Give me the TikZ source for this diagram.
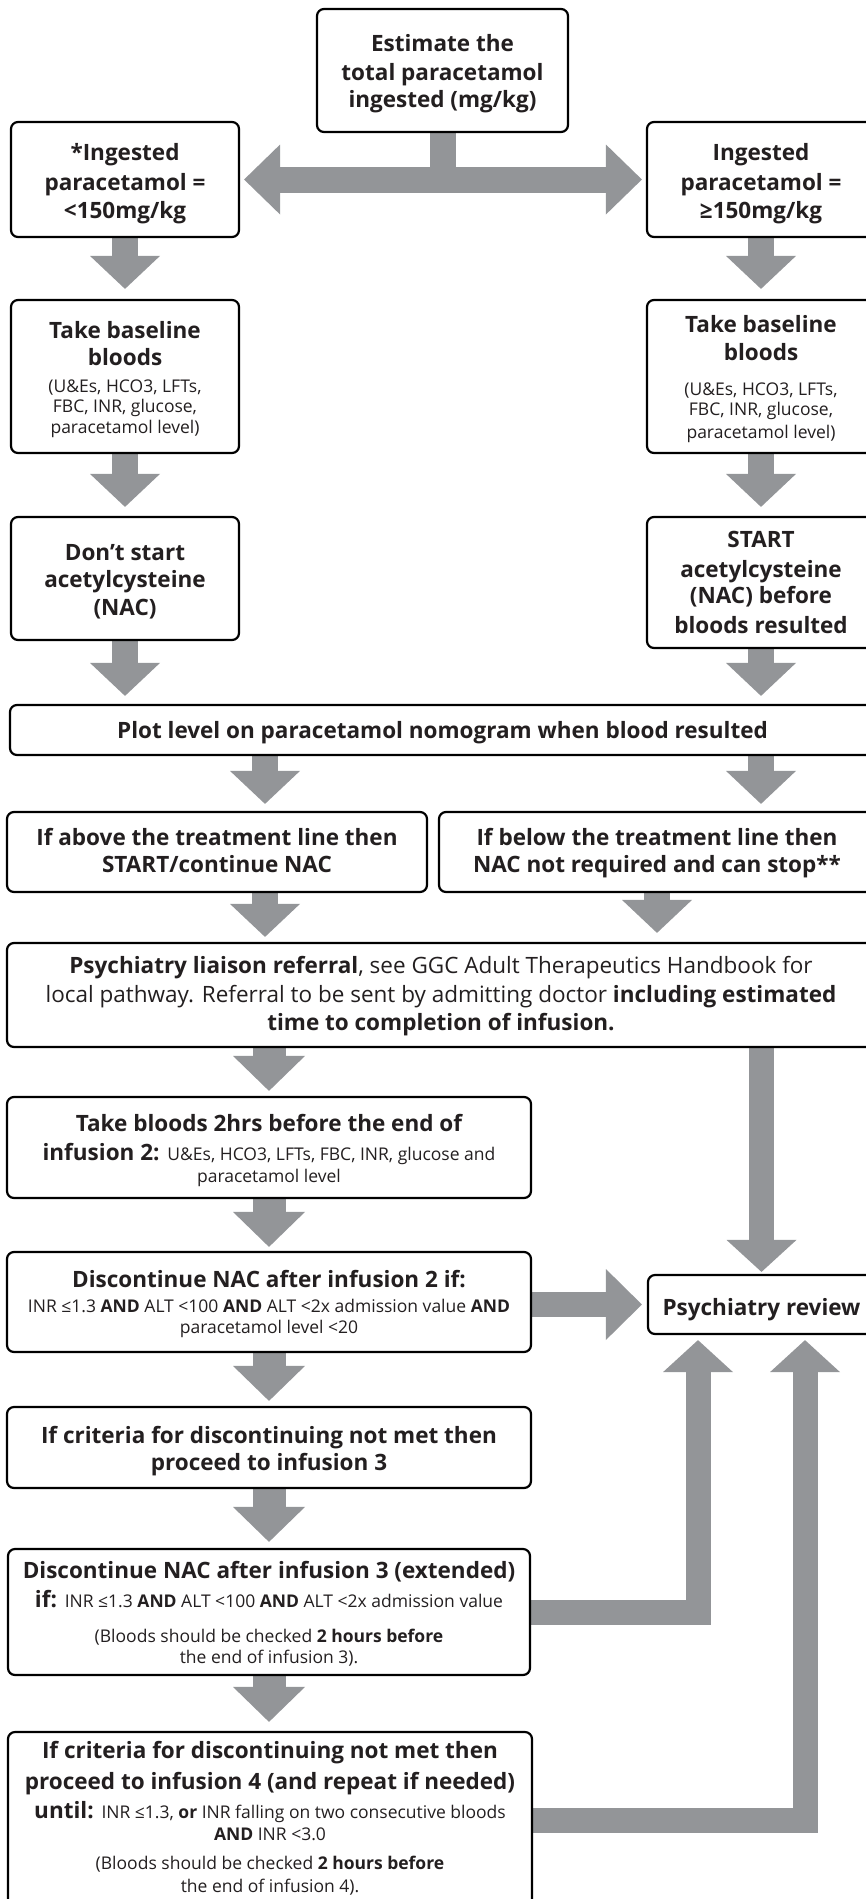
\documentclass[tikz,border=0pt]{standalone}
\usepackage{fontspec}
\setmainfont{Open Sans}
\usetikzlibrary{arrows.meta,calc}
\definecolor{agray}{HTML}{939598}
\definecolor{ink}{HTML}{231F20}
\newcommand\hdf{\fontsize{22.5}{29}\selectfont}
\newcommand\smf{\fontsize{17.5}{21}\selectfont\mdseries}
\pgfdeclarelayer{bg}
\pgfsetlayers{bg,main}
\tikzset{
  box/.style={draw=black, line width=2.2pt, rounded corners=7pt, fill=white,
    inner sep=0pt, align=center, text=ink, font=\hdf\bfseries, anchor=base},
  arrS/.style={draw=agray, line width=26pt, -{Triangle[width=70pt,length=33pt,line width=0pt]}},
  arrW/.style={draw=agray, line width=33pt, -{Triangle[width=72pt,length=35pt,line width=0pt]}},
  arrR/.style={draw=agray, line width=25pt, -{Triangle[width=70pt,length=32pt,line width=0pt]}},
  dbl/.style={draw=agray, line width=26pt,
    {Triangle[width=70pt,length=36pt,line width=0pt]}-{Triangle[width=70pt,length=36pt,line width=0pt]}},
}
\begin{document}
\begin{tikzpicture}[x=1pt,y=-1pt]
\useasboundingbox (0,0) rectangle (866,1899);
% boxes (anchored at the baseline of their last text line)
\node[box, minimum width=251pt, text height=98pt, text depth=25pt] (top) at (442.5,107)
  {Estimate the\\total paracetamol\\[-2pt]ingested (mg/kg)};
\node[box, minimum width=228pt, text height=96pt, text depth=19pt] (lB) at (125,218)
  {*Ingested\\[1pt]paracetamol =\\[-1pt]<150mg/kg};
\node[box, minimum width=228pt, text height=96pt, text depth=19pt] (rB) at (761,218)
  {Ingested\\[1pt]paracetamol =\\[-1pt]≥150mg/kg};
\node[box, minimum width=228pt, text height=133pt, text depth=20pt] (lC) at (125,433)
  {Take baseline\\[-2pt]bloods\\[-2pt]{\smf (U\&Es, HCO3, LFTs,}\\[-9pt]{\smf FBC, INR, glucose,}\\[-8pt]{\smf paracetamol level)}};
\node[box, minimum width=228pt, text height=138pt, text depth=15pt] (rC) at (761,438)
  {Take baseline\\[-1pt]bloods\\[6pt]{\smf (U\&Es, HCO3, LFTs,}\\[-9pt]{\smf FBC, INR, glucose,}\\[-6pt]{\smf paracetamol level)}};
\node[box, minimum width=228pt, text height=98pt, text depth=25pt] (lD) at (125,615)
  {Don’t start\\[-2pt]acetylcysteine\\[-1pt](NAC)};
\node[box, minimum width=228pt, text height=116pt, text depth=15pt] (rD) at (761,633)
  {START\\[1pt]acetylcysteine\\[-3pt](NAC) before\\[1pt]bloods resulted};
\node[box, minimum width=865pt, text height=33pt, text depth=17pt] (plot) at (442.5,738)
  {Plot level on paracetamol nomogram when blood resulted};
\node[box, minimum width=420pt, text height=60pt, text depth=20pt] (lE) at (217,872)
  {If above the treatment line then\\[-2pt]START/continue NAC};
\node[box, minimum width=436pt, text height=60pt, text depth=20pt] (rE) at (657,872)
  {If below the treatment line then\\[-2pt]NAC not required and can stop**};
\node[box, minimum width=868pt, text height=87pt, text depth=17pt] (liaison) at (441,1030)
  {Psychiatry liaison referral{\mdseries, see GGC Adult Therapeutics Handbook for}\\
   {\mdseries local pathway. Referral to be sent by admitting doctor }including estimated\\[-1pt]
   time to completion of infusion.};
\node[box, minimum width=524pt, text height=85pt, text depth=16pt] (bl2) at (269,1182)
  {Take bloods 2hrs before the end of\\infusion 2: {\smf U\&Es, HCO3, LFTs, FBC, INR, glucose and}\\[-7pt]{\smf paracetamol level}};
\node[box, minimum width=524pt, text height=81pt, text depth=19pt] (dc2) at (269,1333)
  {Discontinue NAC after infusion 2 if:\\[-4pt]{\smf INR ≤1.3 \textbf{AND} ALT <100 \textbf{AND} ALT <2x admission value \textbf{AND}}\\[-8pt]{\smf paracetamol level <20}};
\node[box, minimum width=227pt, text height=40pt, text depth=19pt] (rev) at (761.5,1315)
  {Psychiatry review};
\node[box, minimum width=524pt, text height=63pt, text depth=18pt] (cr3) at (269,1470)
  {If criteria for discontinuing not met then\\[-2pt]proceed to infusion 3};
\node[box, minimum width=522pt, text height=114pt, text depth=12pt] (dc3) at (269,1663)
  {Discontinue NAC after infusion 3 (extended)\\if: {\smf INR ≤1.3 \textbf{AND} ALT <100 \textbf{AND} ALT <2x admission value}\\[6pt]{\smf (Bloods should be checked \textbf{2 hours before}}\\[-8pt]{\smf the end of infusion 3).}};
\node[box, minimum width=524pt, text height=160pt, text depth=16pt] (last) at (270,1892)
  {If criteria for discontinuing not met then\\[2pt]proceed to infusion 4 (and repeat if needed)\\until: {\smf INR ≤1.3, \textbf{or} INR falling on two consecutive bloods}\\[-7pt]{\smf\textbf{AND} INR <3.0}\\{\smf (Bloods should be checked \textbf{2 hours before}}\\[-6pt]{\smf the end of infusion 4).}};
% column coordinates
\coordinate (cL) at (265,0);
\coordinate (cM) at (269,0);
\coordinate (cU1) at ($(rev.south)+(-63.5,0)$);
\coordinate (cU2) at ($(rev.south)+(43.5,0)$);
\begin{pgfonlayer}{bg}
\draw[draw=agray, line width=26pt] (top.south) -- (top.south |- lB.east);
\draw[dbl, shorten <=4pt, shorten >=4pt] (lB.east) -- (rB.west);
\draw[arrS, shorten >=10pt] (lB.south) -- (lC.north);
\draw[arrS, shorten >=10pt] (rB.south) -- (rC.north);
\draw[arrS, shorten >=9pt] (lC.south) -- (lD.north);
\draw[arrS, shorten >=9pt] (rC.south) -- (rD.north);
\draw[arrS, shorten >=8pt] (lD.south) -- (lD.south |- plot.north);
\draw[arrS, shorten >=8pt] (rD.south) -- (rD.south |- plot.north);
\draw[arrS, shorten >=7pt] (plot.south -| cL) -- (lE.north -| cL);
\draw[arrS, shorten >=7pt] (plot.south -| rB.south) -- (rE.north -| rB.south);
\draw[arrS, shorten >=5pt] (lE.south -| cL) -- (liaison.north -| cL);
\draw[arrS, shorten >=9pt] (rE.south) -- (liaison.north -| rE.south);
\draw[arrW, shorten >=5pt] (liaison.south -| cM) -- (bl2.north -| cM);
\draw[arrR, shorten >=2pt] (liaison.south -| rev.north) -- (rev.north);
\draw[arrW, shorten >=4pt] (bl2.south -| cM) -- (dc2.north -| cM);
\draw[draw=agray, line width=25pt, -{Triangle[width=71pt,length=36pt,line width=0pt]}, shorten >=5pt]
  (dc2.east |- rev.west) -- (rev.west);
\draw[arrW, shorten >=5pt] (dc2.south -| cM) -- (cr3.north -| cM);
\draw[arrW, shorten >=6pt] (cr3.south -| cM) -- (dc3.north -| cM);
\draw[arrW, shorten >=9pt] (dc3.south -| cM) -- (last.north -| cM);
\draw[arrR, shorten >=5pt] (dc3.east) -| (cU1);
\draw[arrR, shorten >=5pt] (last.east) -| (cU2);
\end{pgfonlayer}
\end{tikzpicture}
\end{document}
